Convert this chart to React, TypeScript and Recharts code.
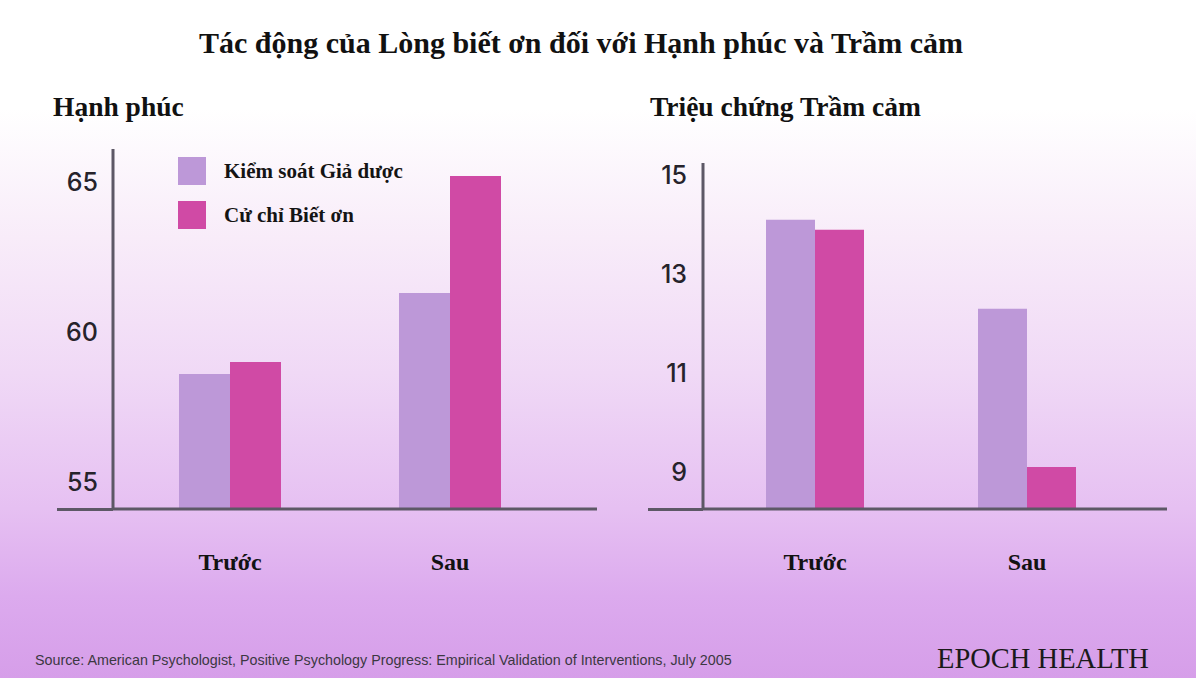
import React from 'react';
import { BarChart, Bar, XAxis, YAxis, Legend } from 'recharts';

const categories = ['Trước', 'Sau'];
const seriesNames = ['Kiểm soát Giả dược', 'Cử chỉ Biết ơn'];
const placeboHappiness = [58.6, 61.3];
const gratitudeHappiness = [59.0, 65.2];
const placeboDepression = [14.1, 12.3];
const gratitudeDepression = [13.9, 9.1];
const happinessTicks = [55, 60, 65];
const depressionTicks = [9, 11, 13, 15];

const PLACEBO = '#bd98d8';
const GRATITUDE = '#d04aa5';
const AXIS = '#5d5866';
const SERIF = '"Liberation Serif", "Times New Roman", serif';
const SANS = '"Liberation Sans", Arial, sans-serif';
const TICKFONT = 'Inter, "Liberation Sans", Arial, sans-serif';

const happinessData = categories.map((c, i) => ({
  name: c,
  placebo: placeboHappiness[i],
  gratitude: gratitudeHappiness[i],
}));
const depressionData = categories.map((c, i) => ({
  name: c,
  placebo: placeboDepression[i],
  gratitude: gratitudeDepression[i],
}));

const renderLegend = (props: any) => {
  const payload = [...(props.payload || [])].sort(
    (a: any, b: any) => seriesNames.indexOf(a.value) - seriesNames.indexOf(b.value)
  );
  return (
    <div>
      {payload.map((p: any, i: number) => (
        <div key={i} style={{ display: 'flex', alignItems: 'center', height: 44 }}>
          <span style={{ display: 'inline-block', width: 28, height: 28, background: p.color, marginRight: 18 }} />
          <span style={{ fontFamily: SERIF, fontWeight: 700, fontSize: 21, color: '#141414' }}>{p.value}</span>
        </div>
      ))}
    </div>
  );
};

const yTick = { fill: '#26232b', fontSize: 25, fontFamily: TICKFONT, fontWeight: 500 };
const xTick = { fill: '#121212', fontSize: 24, fontFamily: SERIF, fontWeight: 700 };

export default function App() {
  return (
    <div
      style={{
        position: 'absolute',
        left: 0,
        top: 0,
        width: 1196,
        height: 678,
        overflow: 'hidden',
        background:
          'linear-gradient(to bottom, #ffffff 0%, #ffffff 16%, #f8ecf9 35%, #f0d9f6 55%, #e6c0f2 75%, #dcaaee 88%, #d69ee9 100%)',
      }}
    >
      <div
        style={{
          position: 'absolute',
          left: 0,
          width: 1162,
          top: 28,
          textAlign: 'center',
          fontFamily: SERIF,
          fontWeight: 700,
          fontSize: 30,
          lineHeight: '30px',
          color: '#111',
        }}
      >
        Tác động của Lòng biết ơn đối với Hạnh phúc và Trầm cảm
      </div>
      <div
        style={{
          position: 'absolute',
          left: 53,
          top: 93,
          fontFamily: SERIF,
          fontWeight: 700,
          fontSize: 27.5,
          lineHeight: '27px',
          color: '#111',
        }}
      >
        Hạnh phúc
      </div>
      <div
        style={{
          position: 'absolute',
          left: 650,
          top: 93,
          fontFamily: SERIF,
          fontWeight: 700,
          fontSize: 27.5,
          lineHeight: '27px',
          color: '#111',
        }}
      >
        Triệu chứng Trầm cảm
      </div>

      <div style={{ position: 'absolute', left: 57, top: 507.5, width: 56, height: 3, background: AXIS }} />
      <div style={{ position: 'absolute', left: 648, top: 507.5, width: 55, height: 3, background: AXIS }} />

      <div style={{ position: 'absolute', left: 0, top: 0 }}>
        <BarChart
          width={620}
          height={600}
          data={happinessData}
          margin={{ top: 149, right: 23, bottom: 31, left: 0 }}
          barGap={0}
          barSize={51}
        >
          <XAxis
            dataKey="name"
            padding={{ left: 7, right: 37 }}
            tickLine={false}
            tickSize={0}
            tickMargin={44}
            height={60}
            axisLine={{ stroke: AXIS, strokeWidth: 3 }}
            tick={xTick}
          />
          <YAxis
            type="number"
            domain={[54.1, 66.1]}
            ticks={happinessTicks}
            width={113}
            tickLine={false}
            tickSize={0}
            tickMargin={15}
            axisLine={{ stroke: AXIS, strokeWidth: 3 }}
            tick={yTick}
          />
          <Legend
            layout="vertical"
            align="center"
            verticalAlign="middle"
            width={260}
            content={renderLegend}
            wrapperStyle={{ top: 149, left: 178 }}
          />
          <Bar dataKey="placebo" name={seriesNames[0]} fill={PLACEBO} isAnimationActive={false} />
          <Bar dataKey="gratitude" name={seriesNames[1]} fill={GRATITUDE} isAnimationActive={false} />
        </BarChart>
      </div>

      <div style={{ position: 'absolute', left: 620, top: 0 }}>
        <BarChart
          width={576}
          height={600}
          data={depressionData}
          margin={{ top: 163, right: 29, bottom: 31, left: 0 }}
          barGap={0}
          barSize={49}
        >
          <XAxis
            dataKey="name"
            padding={{ left: 6, right: 34 }}
            tickLine={false}
            tickSize={0}
            tickMargin={44}
            height={60}
            axisLine={{ stroke: AXIS, strokeWidth: 3 }}
            tick={xTick}
          />
          <YAxis
            type="number"
            domain={[8.25, 15.25]}
            ticks={depressionTicks}
            width={83}
            tickLine={false}
            tickSize={0}
            tickMargin={16}
            axisLine={{ stroke: AXIS, strokeWidth: 3 }}
            tick={yTick}
          />
          <Bar dataKey="placebo" name={seriesNames[0]} fill={PLACEBO} isAnimationActive={false} />
          <Bar dataKey="gratitude" name={seriesNames[1]} fill={GRATITUDE} isAnimationActive={false} />
        </BarChart>
      </div>

      <div
        style={{
          position: 'absolute',
          left: 35,
          top: 652,
          fontFamily: SANS,
          fontSize: 14.3,
          lineHeight: '17px',
          color: '#3c3842',
        }}
      >
        Source: American Psychologist, Positive Psychology Progress: Empirical Validation of Interventions, July 2005
      </div>
      <div
        style={{
          position: 'absolute',
          left: 937,
          top: 645,
          fontFamily: SERIF,
          fontSize: 28.5,
          lineHeight: '28px',
          color: '#1a1a1a',
        }}
      >
        EPOCH HEALTH
      </div>
    </div>
  );
}
